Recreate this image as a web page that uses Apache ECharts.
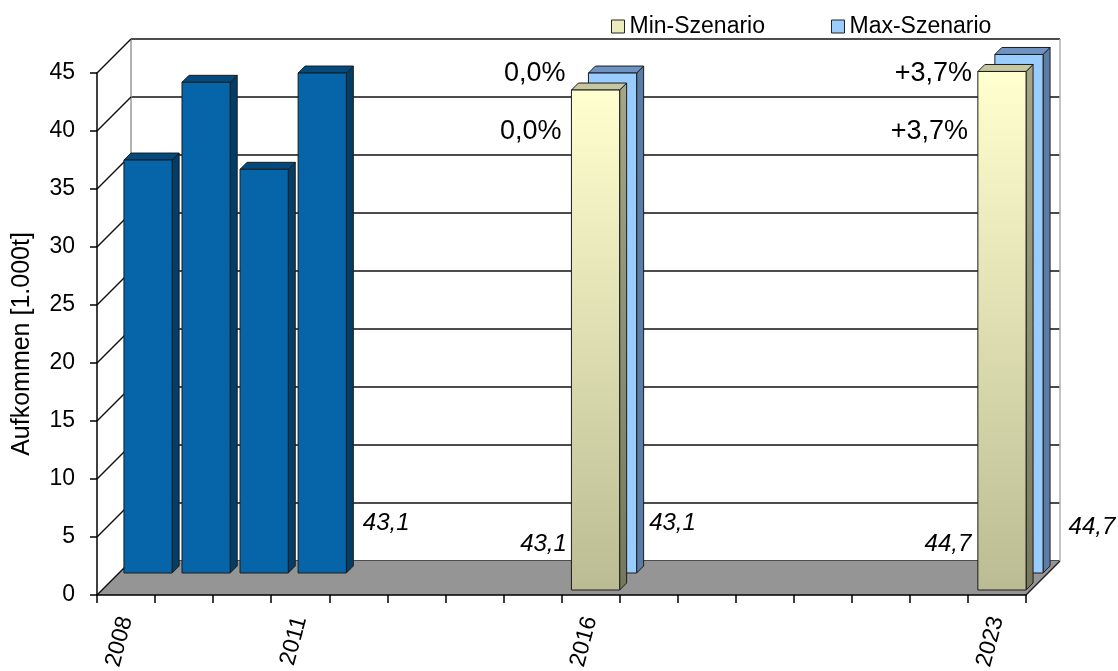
<!DOCTYPE html>
<html>
<head>
<meta charset="utf-8">
<script src="https://cdn.jsdelivr.net/npm/echarts@6/dist/echarts.min.js"></script>
<style>
  html, body { margin: 0; padding: 0; background: #fff; }
  #chart { width: 1118px; height: 671px; }
</style>
</head>
<body>
<div id="chart"></div>
<script>
// Years on the category axis
const years = ['2008','2009','2010','2011','2012','2013','2014','2015',
               '2016','2017','2018','2019','2020','2021','2022','2023'];
const labeledYears = ['2008', '2011', '2016', '2023'];

// Recorded volumes (1.000 t)
const histYears = ['2008', '2009', '2010', '2011'];
const histValues = [35.6, 42.3, 34.8, 43.1];

// Forecast scenarios (1.000 t)
const scenarioYears = ['2016', '2023'];
const minValues = [43.1, 44.7];
const maxValues = [43.1, 44.7];

// Layout of the pseudo-3D box
const FONT = '"Liberation Sans", Arial, Helvetica, sans-serif';
const PLOT = { left: 97, top: 73, width: 929, height: 522 };
const DEPTH = 34;          // depth of the walls in px
const ROW_OFFSET = { hist: 22, max: 22, min: 5 };
const BAR_DEPTH = 7;
const BAR_FRAC = 0.83;

// Where the value labels sit, relative to the foot of each category
const valueLabelOffsets = {
  'hist-2011': [86, -72],
  'min-2016': [-47, -51],
  'max-2016': [82, -72],
  'min-2023': [-49, -51],
  'max-2023': [95, -68]
};
// Change labels: right edge relative to category centre, y in px
const pctLabelPos = { max: { dx: -25, y: 74 }, min: { dx: -29, y: 132 } };

const palette = {
  hist: { front: '#0565a8', top: '#034b7e', side: '#023e68' },
  min: {
    front: { type: 'linear', x: 0, y: 0, x2: 0, y2: 1,
             colorStops: [{ offset: 0, color: '#ffffcf' }, { offset: 1, color: '#bcbc94' }] },
    top: '#c6c6a0',
    side: { type: 'linear', x: 0, y: 0, x2: 0, y2: 1,
            colorStops: [{ offset: 0, color: '#a6a686' }, { offset: 1, color: '#77775b' }] }
  },
  max: { front: '#99ccff', top: '#6e93c3', side: '#5a7ca6' }
};

const fmt = v => v.toFixed(1).replace('.', ',');
const refValue = histValues[histValues.length - 1];
const fmtPct = v => {
  const p = (v / refValue - 1) * 100;
  const s = Math.abs(p).toFixed(1).replace('.', ',') + '%';
  return p > 0.05 ? '+' + s : (p < -0.05 ? '-' + s : s);
};

function boxRenderer(kind) {
  const pal = palette[kind];
  return function (params, api) {
    const cat = api.value(0);
    const val = api.value(1);
    const p0 = api.coord([cat, 0]);
    const p1 = api.coord([cat, val]);
    const w = api.size([1, 0])[0] * BAR_FRAC;
    const off = ROW_OFFSET[kind];
    const d = BAR_DEPTH;
    const x0 = p0[0] - w / 2 + off;
    const yb = p0[1] - off;
    const yt = p1[1] - off;
    const edge = { stroke: '#1c1c1c', lineWidth: 1 };
    const children = [
      { type: 'polygon',
        shape: { points: [[x0 + w, yt], [x0 + w + d, yt - d], [x0 + w + d, yb - d], [x0 + w, yb]] },
        style: Object.assign({ fill: pal.side }, edge) },
      { type: 'polygon',
        shape: { points: [[x0, yt], [x0 + w, yt], [x0 + w + d, yt - d], [x0 + d, yt - d]] },
        style: Object.assign({ fill: pal.top }, edge) },
      { type: 'rect',
        shape: { x: x0, y: yt, width: w, height: yb - yt },
        style: Object.assign({ fill: pal.front }, edge) }
    ];
    const lo = valueLabelOffsets[kind + '-' + years[cat]];
    if (lo) {
      children.push({
        type: 'text', x: p0[0] + lo[0], y: p0[1] + lo[1],
        style: { text: fmt(val), fill: '#000', fontSize: 24, fontStyle: 'italic',
                 fontFamily: FONT, align: 'center', verticalAlign: 'middle' }
      });
    }
    return { type: 'group', children };
  };
}

// Floor, side wall and the edges of the back wall
function wallRenderer(params, api) {
  const cs = params.coordSys;
  const x0 = cs.x, x1 = cs.x + cs.width;
  const yb = api.coord([0, 0])[1];
  const children = [
    { type: 'polygon',
      shape: { points: [[x0, yb], [x1, yb], [x1 + DEPTH, yb - DEPTH], [x0 + DEPTH, yb - DEPTH]] },
      style: { fill: '#959595' } },
    { type: 'line', shape: { x1: x1, y1: yb, x2: x1 + DEPTH, y2: yb - DEPTH },
      style: { stroke: '#222', lineWidth: 1.5 } },
    { type: 'line', shape: { x1: x0 + DEPTH, y1: cs.y - DEPTH, x2: x0 + DEPTH, y2: yb - DEPTH },
      style: { stroke: '#9a9a9a', lineWidth: 1.5 } },
    { type: 'line', shape: { x1: x1 + DEPTH, y1: cs.y - DEPTH, x2: x1 + DEPTH, y2: yb - DEPTH },
      style: { stroke: '#b0b0b0', lineWidth: 1.5 } }
  ];
  for (let v = 0; v <= 45; v += 5) {
    const y = api.coord([0, v])[1];
    children.push({ type: 'line', shape: { x1: x0, y1: y, x2: x0 + DEPTH, y2: y - DEPTH },
                    style: { stroke: '#111', lineWidth: 1.5 } });
  }
  return { type: 'group', children };
}

function pctRenderer(params, api) {
  const cat = api.value(0);
  const val = api.value(1);
  const pos = api.value(2) === 0 ? pctLabelPos.max : pctLabelPos.min;
  const x = api.coord([cat, 0])[0] + pos.dx;
  return {
    type: 'text', x: x, y: pos.y,
    style: { text: fmtPct(val), fill: '#000', fontSize: 27, fontFamily: FONT,
             align: 'right', verticalAlign: 'middle' }
  };
}

const idx = y => years.indexOf(y);
const histData = histYears.map((y, i) => [idx(y), histValues[i]]);
const minData = scenarioYears.map((y, i) => [idx(y), minValues[i]]);
const maxData = scenarioYears.map((y, i) => [idx(y), maxValues[i]]);
const pctData = [].concat(
  scenarioYears.map((y, i) => [idx(y), maxValues[i], 0]),
  scenarioYears.map((y, i) => [idx(y), minValues[i], 1])
);

const chart = echarts.init(document.getElementById('chart'), null, { renderer: 'canvas' });
chart.setOption({
  animation: false,
  backgroundColor: '#fff',
  textStyle: { fontFamily: FONT },
  legend: {
    data: [
      { name: 'Min-Szenario', itemStyle: { color: '#ecebbd', borderColor: '#222', borderWidth: 1 } },
      { name: 'Max-Szenario', itemStyle: { color: '#99ccff', borderColor: '#222', borderWidth: 1 } }
    ],
    left: 606, top: 10, icon: 'rect', itemWidth: 13, itemHeight: 13, itemGap: 66,
    textStyle: { fontSize: 23, color: '#000', fontFamily: FONT }
  },
  grid: [
    { left: PLOT.left, top: PLOT.top, width: PLOT.width, height: PLOT.height,
      containLabel: false, outerBoundsMode: 'none' },
    { left: PLOT.left + DEPTH, top: PLOT.top - DEPTH, width: PLOT.width, height: PLOT.height,
      containLabel: false, outerBoundsMode: 'none' }
  ],
  xAxis: [
    { type: 'category', gridIndex: 0, data: years, boundaryGap: true, z: 10,
      axisLine: { lineStyle: { color: '#000', width: 1.5 } },
      axisTick: { show: true, interval: 0, length: 8, lineStyle: { color: '#000', width: 1.5 } },
      axisLabel: { interval: (i, v) => labeledYears.includes(v), rotate: 75, margin: 22,
                   fontSize: 23, color: '#000', fontFamily: FONT },
      splitLine: { show: false } },
    { type: 'category', gridIndex: 1, data: years, show: false }
  ],
  yAxis: [
    { type: 'value', gridIndex: 0, min: 0, max: 45, interval: 5, z: 10,
      name: 'Aufkommen [1.000t]', nameLocation: 'middle', nameGap: 62, nameRotate: 90,
      nameTextStyle: { fontSize: 25, color: '#000', fontFamily: FONT, padding: [0, 20, 0, 0] },
      axisLine: { show: true, lineStyle: { color: '#000', width: 1.5 } },
      axisTick: { show: true, length: 7, lineStyle: { color: '#000', width: 1.5 } },
      axisLabel: { fontSize: 23, color: '#000', margin: 22, fontFamily: FONT },
      splitLine: { show: false } },
    { type: 'value', gridIndex: 1, min: 0, max: 45, interval: 5,
      axisLine: { show: false }, axisTick: { show: false }, axisLabel: { show: false },
      splitLine: { show: true, lineStyle: { color: '#111', width: 1.5 } } }
  ],
  series: [
    { type: 'custom', name: 'walls', xAxisIndex: 0, yAxisIndex: 0, silent: true,
      renderItem: wallRenderer, data: [[0, 0]] },
    { type: 'custom', name: 'Ist', xAxisIndex: 0, yAxisIndex: 0,
      renderItem: boxRenderer('hist'), itemStyle: { color: '#0565a8' },
      encode: { x: 0, y: 1 }, data: histData },
    { type: 'custom', name: 'Max-Szenario', xAxisIndex: 0, yAxisIndex: 0,
      renderItem: boxRenderer('max'), itemStyle: { color: '#99ccff' },
      encode: { x: 0, y: 1 }, data: maxData },
    { type: 'custom', name: 'Min-Szenario', xAxisIndex: 0, yAxisIndex: 0,
      renderItem: boxRenderer('min'), itemStyle: { color: '#ecebbd' },
      encode: { x: 0, y: 1 }, data: minData },
    { type: 'custom', name: 'Veränderung', xAxisIndex: 0, yAxisIndex: 0, silent: true,
      renderItem: pctRenderer, encode: { x: 0, y: 1 }, data: pctData }
  ]
});
</script>
</body>
</html>
